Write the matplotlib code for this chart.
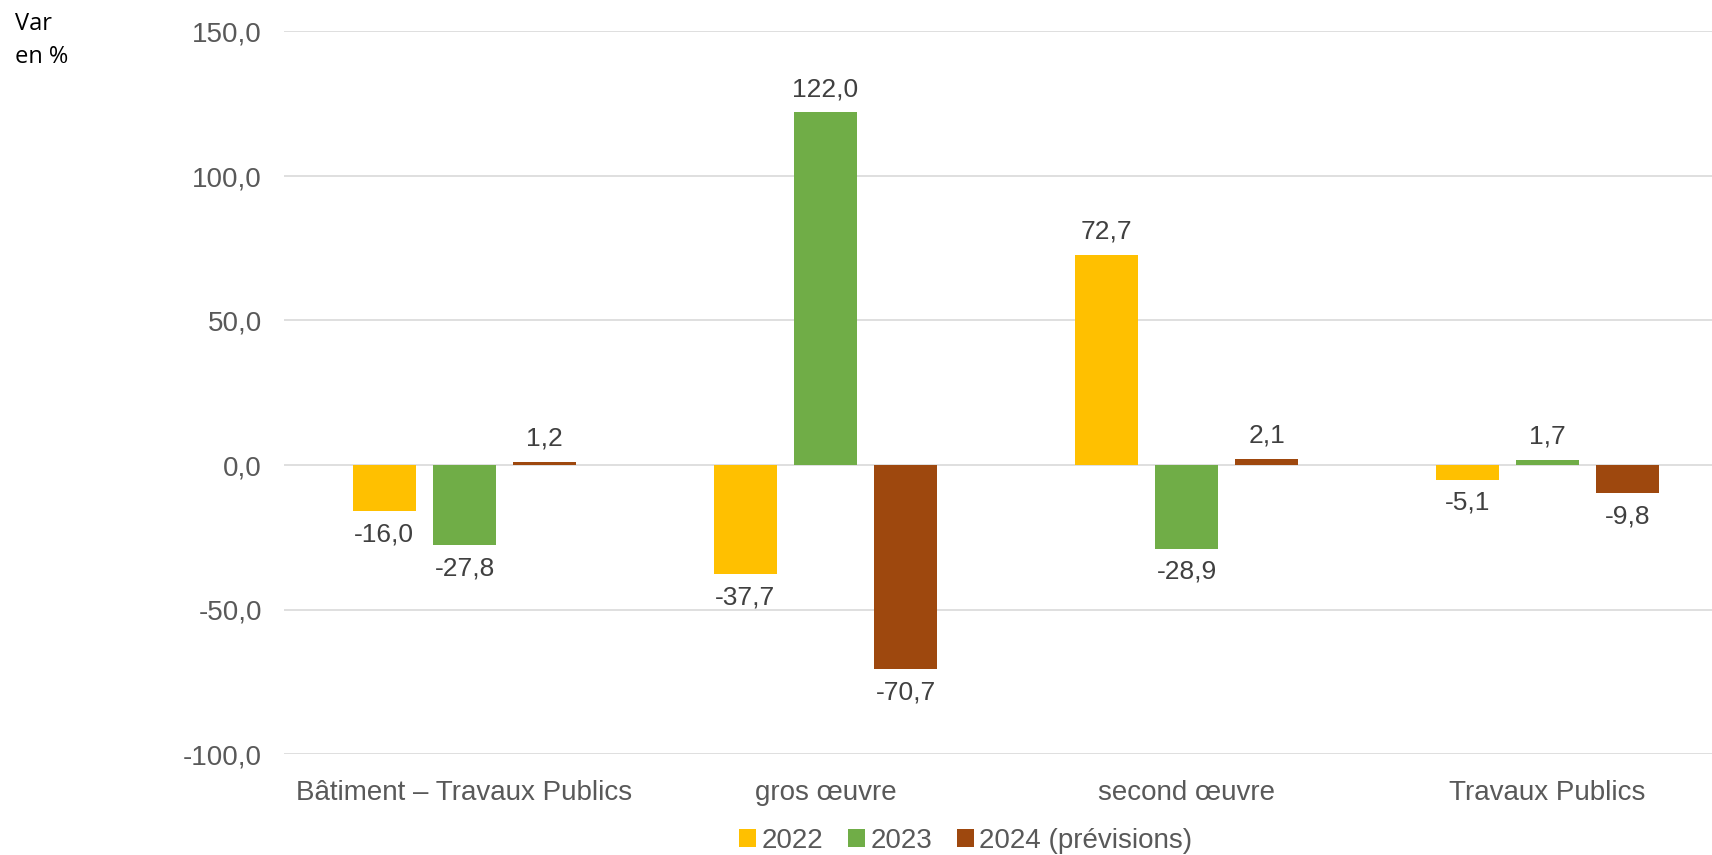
import matplotlib.pyplot as plt
import numpy as np

plt.rcParams["font.family"] = ["Liberation Sans", "DejaVu Sans"]

categories = ["Bâtiment – Travaux Publics", "gros œuvre", "second œuvre", "Travaux Publics"]
series_names = ["2022", "2023", "2024 (prévisions)"]
v2022 = [-16.0, -37.7, 72.7, -5.1]
v2023 = [-27.8, 122.0, -28.9, 1.7]
v2024 = [1.2, -70.7, 2.1, -9.8]
yticks = [-100, -50, 0, 50, 100, 150]

colors = ["#FFC000", "#70AD47", "#9E480E"]
text_grey = "#595959"


def fmt(v):
    return f"{v:.1f}".replace(".", ",")


W, H = 1712, 855
fig = plt.figure(figsize=(W / 100, H / 100), dpi=100)
# plot area runs a bit past the right edge, as in the source
left, right = 284, 1728
ax = fig.add_axes([left / W, 1 - 754 / H, (right - left) / W, (754 - 31.5) / H])

x = np.arange(len(categories))
step = 0.222
width = 0.175
for i, (vals, name, col) in enumerate(zip([v2022, v2023, v2024], series_names, colors)):
    bars = ax.bar(x + (i - 1) * step, vals, width=width, color=col, label=name, zorder=3)
    ax.bar_label(bars, labels=[fmt(v) for v in vals], padding=8,
                 fontsize=19, color="#404040")

ax.set_xlim(-0.5, len(categories) - 0.5)
ax.set_ylim(-100, 150)
ax.set_yticks(yticks)
ax.set_yticklabels([fmt(t) for t in yticks], fontsize=20, color=text_grey)
ax.set_xticks(x)
ax.set_xticklabels(categories, fontsize=20, color=text_grey)
ax.tick_params(axis="both", length=0)
ax.tick_params(axis="y", pad=16)
ax.tick_params(axis="x", pad=19)
ax.grid(axis="y", color="#D9D9D9", linewidth=1.2, zorder=0)
for s in ax.spines.values():
    s.set_visible(False)

unit_font = ["Open Sans", "DejaVu Sans"]
fig.text(15 / W, 1 - 24 / H, "Var", fontsize=17, color="black",
         family=unit_font, va="center", ha="left")
fig.text(15 / W, 1 - 57 / H, "en %", fontsize=17, color="black",
         family=unit_font, va="center", ha="left")

leg = fig.legend(loc="center", bbox_to_anchor=(966 / W, 1 - 841 / H), ncol=3,
                 frameon=False, fontsize=20, handlelength=0.6, handleheight=0.6,
                 handletextpad=0.2, columnspacing=0.9)
for t in leg.get_texts():
    t.set_color(text_grey)

fig.savefig("out.png", dpi=100)
